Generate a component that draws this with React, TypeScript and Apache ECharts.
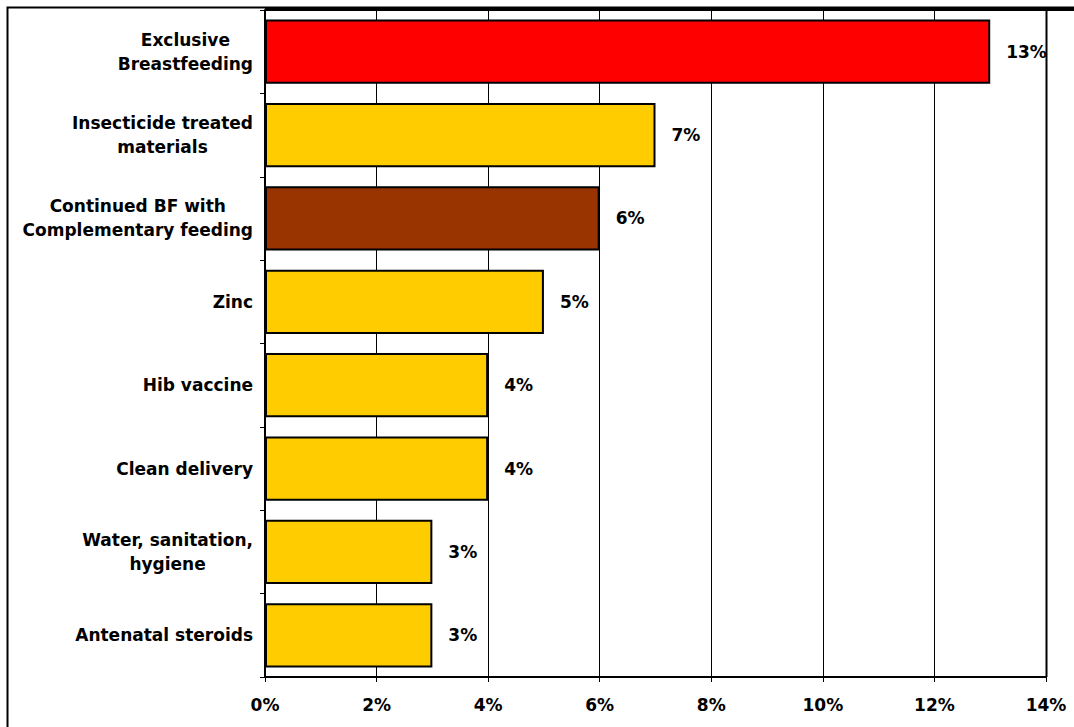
import React, { useEffect, useRef } from "react";
import * as echarts from "echarts";

const categories = [
  "Exclusive\nBreastfeeding",
  "Insecticide treated\nmaterials",
  "Continued BF with\nComplementary feeding",
  "Zinc",
  "Hib vaccine",
  "Clean delivery",
  "Water, sanitation,\nhygiene",
  "Antenatal steroids",
];
const values = [13, 7, 6, 5, 4, 4, 3, 3];
const barColors = ["#FF0000", "#FFCC00", "#993300", "#FFCC00", "#FFCC00", "#FFCC00", "#FFCC00", "#FFCC00"];
const xTicks = [0, 2, 4, 6, 8, 10, 12, 14];

const FONT = "'DejaVu Sans', Verdana, sans-serif";
const FS = 17;

export default function App() {
  const ref = useRef<HTMLDivElement>(null);
  useEffect(() => {
    const chart = echarts.init(ref.current!, null, { renderer: "svg" });
    chart.setOption({
      animation: false,
      backgroundColor: "#ffffff",
      grid: { left: 265, right: 28, top: 10, bottom: 50, containLabel: false },
      graphic: [
        {
          type: "rect",
          z: 100,
          shape: { x: 7.5, y: 7.5, width: 1090, height: 740 },
          style: { fill: "none", stroke: "#000", lineWidth: 2 },
        },
        {
          type: "line",
          z: 100,
          shape: { x1: 265, y1: 9.5, x2: 1074, y2: 9.5 },
          style: { stroke: "#000", lineWidth: 3 },
        },
        {
          type: "line",
          z: 100,
          shape: { x1: 1046.5, y1: 9, x2: 1046.5, y2: 677 },
          style: { stroke: "#000", lineWidth: 2 },
        },
      ],
      xAxis: {
        type: "value",
        min: xTicks[0],
        max: xTicks[xTicks.length - 1],
        interval: 2,
        axisLine: { show: true, lineStyle: { color: "#000", width: 2 } },
        axisTick: { show: true, length: 5, lineStyle: { color: "#000", width: 1 } },
        splitLine: { show: true, lineStyle: { color: "#000", width: 1 } },
        axisLabel: {
          formatter: (v: number) => v + "%",
          color: "#000",
          fontFamily: FONT,
          fontWeight: "bold",
          fontSize: FS,
          margin: 19,
        },
      },
      yAxis: {
        type: "category",
        inverse: true,
        data: categories,
        axisLine: { show: true, lineStyle: { color: "#000", width: 2 } },
        axisTick: { show: true, length: 5, lineStyle: { color: "#000", width: 1 } },
        axisLabel: {
          color: "#000",
          fontFamily: FONT,
          fontWeight: "bold",
          fontSize: FS,
          margin: 12,
          lineHeight: 24,
          formatter: (v: string) =>
            v
              .split("\n")
              .map((s) => "{c|" + s + "}")
              .join("\n"),
          rich: {
            c: {
              align: "center",
              color: "#000",
              fontFamily: FONT,
              fontWeight: "bold",
              fontSize: FS,
              lineHeight: 24,
            },
          },
        },
      },
      series: [
        {
          type: "bar",
          data: values.map((v, i) => ({
            value: v,
            itemStyle: { color: barColors[i] },
          })),
          barCategoryGap: "23%",
          itemStyle: { borderColor: "#000", borderWidth: 2 },
          label: {
            show: true,
            position: "right",
            distance: 16,
            formatter: (p: any) => p.value + "%",
            color: "#000",
            fontFamily: FONT,
            fontWeight: "bold",
            fontSize: FS,
          },
        },
      ],
    });
    return () => chart.dispose();
  }, []);
  return <div ref={ref} style={{ width: 1074, height: 727, position: "absolute", left: 0, top: 0 }} />;
}
